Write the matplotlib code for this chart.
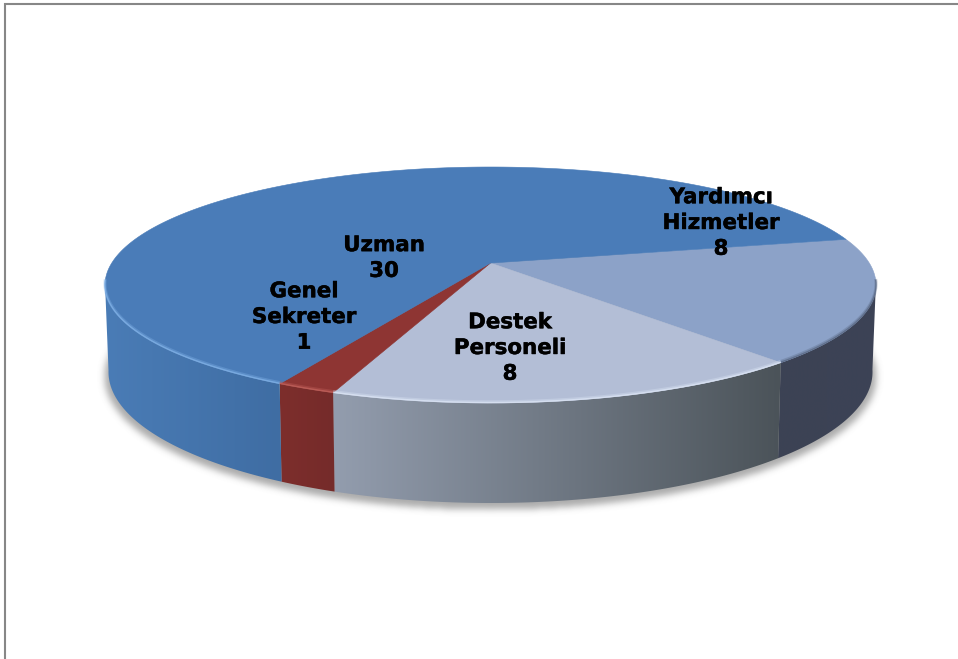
"""Staff by unit, drawn as a perspective 3D pie"""
import numpy as np
import matplotlib
matplotlib.use("Agg")
import matplotlib.pyplot as plt
import matplotlib.patheffects as pe
from matplotlib.colors import LinearSegmentedColormap
from matplotlib.patches import Polygon

# data, clockwise from the start angle
categories = ["Yardımcı\nHizmetler", "Destek\nPersoneli", "Genel\nSekreter", "Uzman"]
values = [8, 8, 1, 30]

# styles
top_colors = ["#8ca2c8", "#b3bed6", "#8e3533", "#4a7cb8"]
side_left = ["#3c4254", "#939dae", "#7d2e2c", "#4a7cb6"]
side_right = ["#3c4356", "#4b5359", "#752b2a", "#3f6da3"]
rim_colors = ["#5b6a86", "#dbe4f4", "#c0605a", "#7fb0e6"]
label_pos = [(721, 223), (510, 348), (304, 317), (384, 258)]

START_ANGLE = 12.5
TILT = 0.186  # how far the apex sits above the centre of the ellipse
TOP = (490.5, 285, 385.5, 118)
BOTTOM = (490.5, 372, 382, 131)


def project(theta, shape):
    """Map circle angles (degrees) on to an ellipse in perspective"""
    cx, cy, a, b = shape
    t = np.radians(theta)
    den = 1 + TILT * np.sin(t)
    x = np.cos(t) * np.sqrt(1 - TILT**2) / den
    y = (np.sin(t) + TILT) / den
    return cx + a * x, cy - b * y


def blurred_shadow(sigma=3.5):
    """Soft grey ellipse that sits under the pie"""
    yy, xx = np.mgrid[0:659, 0:958]
    mask = (((xx - 490) / 386.0) ** 2 + ((yy - 376) / 133.0) ** 2 <= 1).astype(float)
    r = int(3 * sigma)
    kernel = np.exp(-0.5 * (np.arange(-r, r + 1) / sigma) ** 2)
    kernel /= kernel.sum()
    mask = np.apply_along_axis(np.convolve, 0, mask, kernel, mode="same")
    mask = np.apply_along_axis(np.convolve, 1, mask, kernel, mode="same")
    rgba = np.zeros((659, 958, 4))
    rgba[..., :3] = 0.4
    rgba[..., 3] = mask * 0.55
    return rgba


fig = plt.figure(figsize=(9.58, 6.59), dpi=100)
ax = fig.add_axes([0, 0, 1, 1])
ax.axis("off")

ax.imshow(blurred_shadow(), extent=(0, 958, 659, 0), zorder=1, aspect="auto")

sweeps = 360.0 * np.array(values) / sum(values)
ends = START_ANGLE - np.cumsum(sweeps)
starts = ends + sweeps
gradient = np.linspace(0, 1, 256).reshape(1, -1)
apex = (TOP[0], TOP[1] - TOP[3] * TILT)

for i in range(len(values)):
    theta = np.linspace(starts[i], ends[i], 300)
    tx, ty = project(theta, TOP)
    bx, by = project(theta, BOTTOM)

    # side wall, only the part facing the viewer
    front = np.sin(np.radians(theta)) <= -TILT + 0.02
    if front.any():
        wall = np.column_stack(
            [np.r_[tx[front], bx[front][::-1]], np.r_[ty[front], by[front][::-1]]]
        )
        cmap = LinearSegmentedColormap.from_list("side", [side_left[i], side_right[i]])
        patch = Polygon(wall, closed=True, facecolor="none", edgecolor="none", zorder=2)
        ax.add_patch(patch)
        im = ax.imshow(
            gradient,
            cmap=cmap,
            extent=(wall[:, 0].min(), wall[:, 0].max(), 520, 230),
            aspect="auto",
            zorder=2,
        )
        im.set_clip_path(patch)

    # top face
    ax.add_patch(
        Polygon(
            np.column_stack([np.r_[apex[0], tx], np.r_[apex[1], ty]]),
            closed=True,
            facecolor=top_colors[i],
            edgecolor=top_colors[i],
            linewidth=0.4,
            zorder=3,
        )
    )

# bevel along the front edge of the top face
for i in range(len(values)):
    theta = np.linspace(starts[i], ends[i], 300)
    tx, ty = project(theta, TOP)
    front = ty > 280
    ax.plot(tx[front], ty[front] - 1.2, color=rim_colors[i], lw=2.2, alpha=0.35,
            zorder=4, solid_capstyle="butt")
    ax.plot(tx[front], ty[front] - 0.5, color=rim_colors[i], lw=1.0, alpha=0.8,
            zorder=4, solid_capstyle="butt")

for name, value, (x, y) in zip(categories, values, label_pos):
    ax.text(x, y, f"{name}\n{value}", ha="center", va="center", fontsize=15.4,
            fontweight="bold", family="DejaVu Sans", color="black", linespacing=1.36,
            zorder=5, path_effects=[pe.withStroke(linewidth=0.3, foreground="black")])

# outer frame, only the left and top edges fall inside the picture
ax.plot([5.5, 5.5, 958], [659, 4, 4], color="#878787", lw=1.5, zorder=6,
        solid_joinstyle="miter")

ax.set_xlim(0, 958)
ax.set_ylim(659, 0)
fig.savefig("out.png", dpi=100)
